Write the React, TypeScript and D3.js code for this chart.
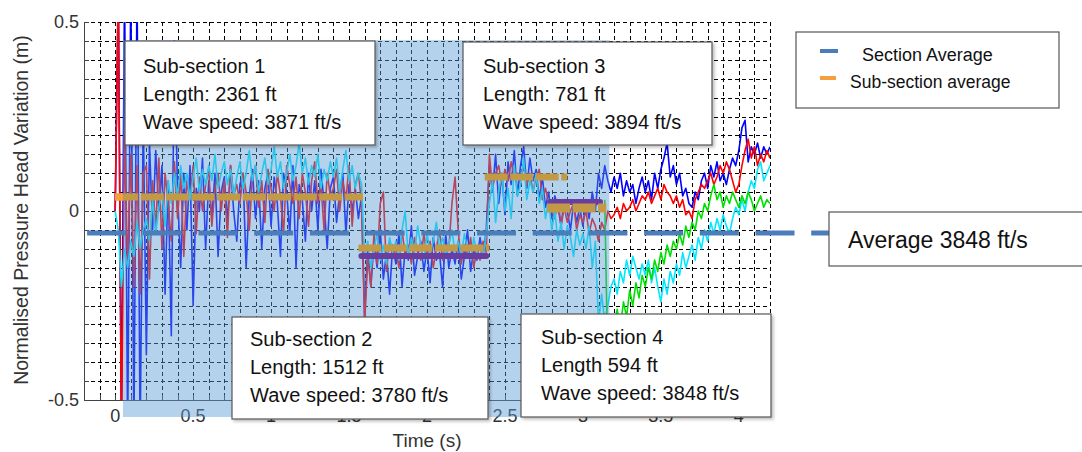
import React from 'react';
import * as d3 from 'd3';

const W = 1082;
const H = 452;
const X_DOMAIN: [number, number] = [-0.2, 4.2];
const Y_DOMAIN: [number, number] = [-0.5, 0.5];
const xTickValues = [0, 0.5, 1, 1.5, 2, 2.5, 3, 3.5, 4];
const xTickLabels = ['0', '0.5', '1', '1.5', '2', '2.5', '3', '3.5', '4'];
const yTickValues = [-0.5, 0, 0.5];
const yTickLabels = ['-0.5', '0', '0.5'];

const SAMPLE_START = 0;
const SAMPLE_STEP = 0.02;

const blueSeries = [
  0.0, 0.6, -0.6, 0.6, -0.6, 0.6, -0.6, 0.6, -0.6, 0.25,
  -0.38, 0.18, -0.05, 0.16, 0.0, 0.12, -0.22, 0.08, -0.33, 0.45,
  0.05, -0.15, 0.1, -0.05, 0.12, -0.25, 0.06, 0.0, 0.14, -0.1,
  0.08, -0.02, 0.1, -0.12, 0.05, 0.09, -0.03, 0.12, 0.0, -0.08,
  0.07, 0.1, -0.15, 0.04, 0.11, -0.02, 0.08, -0.1, 0.06, 0.1,
  -0.04, 0.09, 0.02, -0.12, 0.1, 0.05, -0.06, 0.12, -0.15, 0.07,
  0.03, -0.08, 0.1, 0.0, 0.08, -0.05, 0.11, 0.02, -0.1, 0.06,
  0.09, -0.03, 0.05, 0.1, -0.06, 0.07, 0.0, 0.06, -0.02, 0.04,
  -0.28, -0.1, -0.2, -0.08, -0.15, -0.05, -0.18, -0.11, -0.22, -0.09,
  -0.14, -0.06, -0.2, -0.1, -0.13, -0.04, -0.17, -0.12, -0.08, -0.16,
  -0.1, -0.19, -0.07, -0.13, -0.11, -0.2, -0.06, -0.15, -0.1, -0.14,
  -0.08, -0.18, -0.12, -0.05, -0.16, -0.1, -0.13, -0.07, -0.12, -0.05,
  0.12, 0.05, 0.15, 0.02, 0.1, -0.01, 0.13, 0.07, 0.16, 0.04,
  0.12, 0.17, 0.06, 0.14, 0.08, 0.11, 0.03, 0.09, 0.01, 0.05,
  -0.02, 0.04, 0.01, -0.04, 0.03, 0.0, -0.05, 0.02, -0.03, 0.01,
  -0.04, 0.03, -0.02, 0.05, 0.0, 0.1, 0.06, 0.12, 0.08, 0.05,
  0.09, 0.06, 0.1, 0.04, 0.08, 0.05, 0.07, 0.02, 0.06, 0.09,
  0.05, 0.08, 0.03, 0.1, 0.06, 0.11, 0.14, 0.18, 0.09, 0.12,
  0.07, 0.1, 0.04, 0.06, 0.02, 0.01, 0.05, 0.03, 0.08, 0.1,
  0.06, 0.12, 0.09, 0.13, 0.08, 0.1, 0.07, 0.11, 0.14, 0.12,
  0.16, 0.22, 0.24, 0.13, 0.17, 0.15, 0.18, 0.14, 0.17, 0.15, 0.17,
];

const redSeries = [
  0.0, 0.6, -0.6, 0.2, -0.15, 0.15, -0.2, 0.12, -0.22, 0.1,
  0.12, -0.18, 0.08, -0.05, 0.14, -0.1, 0.1, 0.02, -0.08, 0.13,
  -0.02, 0.1, -0.12, 0.08, 0.03, 0.12, -0.06, 0.09, 0.0, 0.07,
  0.11, -0.04, 0.06, 0.1, 0.0, 0.08, -0.07, 0.12, 0.04, 0.07,
  0.02, 0.1, 0.05, -0.05, 0.09, 0.12, 0.01, 0.08, -0.03, 0.11,
  0.06, 0.0, 0.1, 0.04, -0.06, 0.12, 0.07, 0.02, 0.09, -0.02,
  0.1, 0.05, -0.04, 0.08, 0.13, 0.02, 0.07, -0.05, 0.1, 0.04,
  0.06, 0.11, 0.0, 0.08, 0.03, 0.12, -0.04, 0.07, 0.1, 0.02,
  -0.3, -0.12, -0.2, -0.06, -0.14, 0.02, 0.05, -0.16, -0.08, -0.12,
  -0.1, -0.15, -0.05, -0.12, -0.09, -0.14, -0.07, -0.11, -0.13, -0.06,
  -0.12, -0.08, -0.15, -0.1, -0.05, -0.13, -0.09, -0.1, 0.02, 0.09,
  -0.05, -0.14, -0.09, -0.12, -0.07, -0.15, -0.1, -0.13, -0.08, -0.11,
  0.15, 0.06, 0.1, 0.12, 0.07, 0.11, 0.08, 0.13, 0.09, 0.1,
  0.08, 0.12, 0.07, 0.1, 0.05, 0.09, 0.11, 0.03, 0.06, 0.02,
  0.0, -0.02, 0.03, -0.04, 0.01, -0.03, 0.0, 0.02, -0.05, -0.01,
  -0.03, 0.0, -0.06, -0.02, -0.04, -0.08, -0.03, -0.05, 0.0, -0.02,
  -0.01, 0.01, -0.02, 0.02, 0.0, 0.01, 0.03, 0.0, 0.02, 0.04,
  0.03, 0.05, 0.02, 0.04, 0.06, 0.03, 0.07, 0.05, 0.04, 0.02,
  0.04, 0.01, 0.03, -0.01, 0.0, -0.02, 0.03, 0.05, 0.07, 0.06,
  0.08, 0.1, 0.07, 0.09, 0.12, 0.1, 0.13, 0.11, 0.08, 0.05,
  0.07, 0.12, 0.16, 0.19, 0.14, 0.17, 0.12, 0.15, 0.13, 0.16, 0.14,
];

const cyanSeries = [
  0.0, -0.05, -0.2, -0.1, -0.15, -0.08, -0.12, -0.03, -0.1, -0.05,
  -0.02, -0.08, 0.03, -0.06, 0.01, 0.05, -0.04, 0.08, 0.02, 0.1,
  0.04, 0.12, 0.06, 0.1, 0.03, 0.09, 0.14, 0.05, 0.11, 0.07,
  0.12, 0.08, 0.15, 0.06, 0.1, 0.13, 0.07, 0.11, 0.04, 0.09,
  0.13, 0.06, 0.1, 0.16, 0.08, 0.12, 0.05, 0.1, 0.14, 0.07,
  0.11, 0.17, 0.09, 0.13, 0.06, 0.1, 0.15, 0.08, 0.12, 0.18,
  0.1, 0.14, 0.07, 0.12, 0.09, 0.15, 0.06, 0.11, 0.08, 0.13,
  0.09, 0.14, 0.05, 0.11, 0.16, 0.08, 0.12, 0.06, 0.1, 0.07,
  -0.12, -0.08, -0.15, -0.1, -0.06, -0.13, -0.09, -0.14, -0.07, -0.11,
  -0.08, -0.13, -0.05, 0.0, -0.12, -0.07, -0.11, -0.04, -0.09, -0.13,
  -0.06, -0.11, -0.08, -0.03, -0.1, -0.07, -0.12, -0.09, -0.05, -0.11,
  -0.08, -0.12, -0.06, -0.1, -0.13, -0.07, -0.11, -0.09, -0.12, -0.06,
  0.02, 0.08, -0.03, 0.05, 0.1, 0.0, 0.06, -0.02, 0.12, 0.04,
  0.07, 0.14, 0.03, 0.08, 0.05, 0.1, 0.02, 0.06, -0.02, 0.03,
  -0.05, 0.0, -0.08, -0.03, -0.1, -0.04, -0.07, -0.12, -0.05, -0.09,
  -0.06, -0.1, -0.04, -0.15, -0.08, -0.3, -0.22, -0.29, -0.25, -0.2,
  -0.18, -0.22, -0.16, -0.19, -0.13, -0.17, -0.12, -0.15, -0.18, -0.14,
  -0.17, -0.13, -0.19, -0.15, -0.2, -0.24, -0.18, -0.22, -0.16, -0.19,
  -0.14, -0.17, -0.11, -0.15, -0.12, -0.09, -0.13, -0.07, -0.1, -0.05,
  -0.08, -0.03, -0.06, -0.02, -0.05, -0.01, -0.04, -0.06, -0.02, 0.01,
  -0.01, 0.03, 0.0, 0.05, 0.08, 0.06, 0.11, 0.13, 0.08, 0.1, 0.12,
];

const GREEN_START = 3.14;
const greenSeries = [
  0.03, -0.42, -0.33,
  -0.3, -0.26, -0.31, -0.24, -0.28, -0.21, -0.25, -0.19, -0.23, -0.17,
  -0.2, -0.15, -0.18, -0.13, -0.16, -0.11, -0.14, -0.09, -0.12, -0.08,
  -0.1, -0.06, -0.09, -0.04, -0.07, -0.03, -0.05, 0.0, -0.02, 0.02,
  0.0, 0.04, 0.07, 0.03, 0.05, 0.01, 0.04, 0.02, 0.05, 0.03,
  0.01, 0.04, 0.02, 0.05, 0.03, 0.0, 0.02, 0.04, 0.01, 0.03, 0.02,
];

const sectionAverage = -0.058;
const subStart = [0, 1.56, 2.37, 2.77];
const subEnd = [1.59, 2.4, 2.9, 3.15];
const subAverage = [0.037, -0.098, 0.09, 0.008];
const subAverageAlt: (number | null)[] = [null, -0.119, null, 0.024];
const shadeStart = 0.05;
const shadeEnd = 3.17;

const subLabels = ['Sub-section 1', 'Sub-section 2', 'Sub-section 3', 'Sub-section 4'];
const subLengths = ['Length: 2361 ft', 'Length: 1512 ft', 'Length: 781 ft', 'Length 594 ft'];
const subSpeeds = ['Wave speed: 3871 ft/s', 'Wave speed: 3780 ft/s', 'Wave speed: 3894 ft/s', 'Wave speed: 3848 ft/s'];
const averageLabel = 'Average 3848 ft/s';
const legendLabels = ['Section Average', 'Sub-section average'];

const FONT = "'Liberation Sans', Arial, Helvetica, sans-serif";
const C_BLUE = '#0000ff';
const C_RED = '#ff0000';
const C_CYAN = '#00e8ff';
const C_GREEN = '#00e000';
const C_SECTION = '#4a7dba';
const C_ORANGE = '#f5a040';
const C_GOLD = '#c29a45';
const C_PURPLE = '#6a3d9e';

export default function App() {
  const left = 84, right = 770, top = 22, bottom = 400;
  const x = d3.scaleLinear().domain(X_DOMAIN).range([left, right]);
  const y = d3.scaleLinear().domain(Y_DOMAIN).range([bottom, top]);
  const line = d3
    .line<[number, number]>()
    .x((d) => x(d[0]))
    .y((d) => y(d[1]));
  const toPts = (vals: number[], start: number): [number, number][] =>
    vals.map((v, i) => [start + i * SAMPLE_STEP, v]);

  const xGrid = d3.range(-1, 43).map((i) => i / 10);
  const yGrid = d3.range(-9, 11).map((i) => i * 0.05);
  const px = (v: number) => Math.round(v) + 0.5;

  const series = [
    { vals: blueSeries, start: SAMPLE_START, color: C_BLUE },
    { vals: redSeries, start: SAMPLE_START, color: C_RED },
    { vals: cyanSeries, start: SAMPLE_START, color: C_CYAN },
    { vals: greenSeries, start: GREEN_START, color: C_GREEN },
  ];

  const boxes = [
    { x: 125, y: 41, w: 250, h: 104, tx: 143, base: [73, 101, 129] },
    { x: 232, y: 317, w: 256, h: 102, tx: 250, base: [346, 374, 402] },
    { x: 463, y: 42, w: 249, h: 103, tx: 483, base: [73, 101, 129] },
    { x: 521, y: 314, w: 250, h: 103, tx: 541, base: [344, 372, 400] },
  ];

  return (
    <svg
      width={W}
      height={H}
      viewBox={`0 0 ${W} ${H}`}
      style={{ position: 'absolute', left: 0, top: 0, background: '#fff' }}
      fontFamily={FONT}
    >
      <defs>
        <clipPath id="plotClip">
          <rect x={left} y={top} width={right - left} height={bottom - top} />
        </clipPath>
        <filter id="shadow" x="-5%" y="-5%" width="115%" height="125%">
          <feDropShadow dx="2" dy="2" stdDeviation="1.5" floodColor="#000" floodOpacity="0.25" />
        </filter>
      </defs>
      <rect x={0} y={0} width={W} height={H} fill="#fff" />

      {/* grid */}
      <g stroke="#000" strokeWidth={1} strokeDasharray="4 3" shapeRendering="crispEdges">
        {xGrid.map((t) => (
          <line key={'gx' + t} x1={px(x(t))} x2={px(x(t))} y1={top} y2={bottom} />
        ))}
        {yGrid.map((v) => (
          <line key={'gy' + v} x1={left} x2={right} y1={px(y(v))} y2={px(y(v))} />
        ))}
      </g>

      {/* axes */}
      <g stroke="#444" strokeWidth={1.2} shapeRendering="crispEdges">
        <line x1={px(left)} x2={px(left)} y1={top} y2={bottom} />
        <line x1={left} x2={right} y1={px(bottom)} y2={px(bottom)} />
        {yGrid.concat([-0.5]).map((v) => (
          <line key={'ty' + v} x1={left} x2={left + 5} y1={px(y(v))} y2={px(y(v))} />
        ))}
        {xGrid.map((t) => (
          <line key={'tx' + t} x1={px(x(t))} x2={px(x(t))} y1={bottom} y2={bottom - 5} />
        ))}
      </g>

      {/* tick labels */}
      <g fill="#333" fontSize={18}>
        {yTickValues.map((v, i) => (
          <text key={'yl' + v} x={79} y={y(v)} dy="0.35em" textAnchor="end">
            {yTickLabels[i]}
          </text>
        ))}
        {xTickValues.map((t, i) => (
          <text key={'xl' + t} x={x(t)} y={416} dy="0.35em" textAnchor="middle">
            {xTickLabels[i]}
          </text>
        ))}
      </g>

      {/* axis titles */}
      <text x={427} y={447} fontSize={19} fill="#333" textAnchor="middle">
        Time (s)
      </text>
      <text
        transform="translate(28,210) rotate(-90)"
        fontSize={19.5}
        fill="#333"
        textAnchor="middle"
      >
        Normalised Pressure Head Variation (m)
      </text>

      {/* data */}
      <g clipPath="url(#plotClip)" fill="none" strokeWidth={1.6} strokeLinejoin="round">
        {series.map((s, i) => (
          <path key={'s' + i} d={line(toPts(s.vals, s.start)) || ''} stroke={s.color} />
        ))}
      </g>

      {/* shaded overlay */}
      <rect
        x={x(shadeStart)}
        y={y(0.452)}
        width={x(shadeEnd) - x(shadeStart)}
        height={417 - y(0.452)}
        fill="rgb(91,155,213)"
        fillOpacity={0.45}
      />

      {/* section average */}
      <line
        x1={x(-0.18)}
        x2={830}
        y1={y(sectionAverage)}
        y2={y(sectionAverage)}
        stroke={C_SECTION}
        strokeWidth={5}
        strokeDasharray="39 16.7"
      />

      {/* sub-section averages */}
      {subStart.map((s, i) => (
        <g key={'sub' + i}>
          {subAverageAlt[i] !== null && (
            <line
              x1={x(s) + 3}
              x2={x(subEnd[i]) - (i === 3 ? 6 : 3)}
              y1={y(subAverageAlt[i] as number)}
              y2={y(subAverageAlt[i] as number)}
              stroke={C_PURPLE}
              strokeWidth={6}
              strokeLinecap="round"
              strokeDasharray="24 2"
            />
          )}
          <line
            x1={x(s)}
            x2={x(subEnd[i])}
            y1={y(subAverage[i])}
            y2={y(subAverage[i])}
            stroke={C_GOLD}
            strokeWidth={i === 3 ? 9 : 7}
            strokeDasharray="23 2.5"
          />
        </g>
      ))}
      <line
        x1={x(subStart[0])}
        x2={x(shadeStart)}
        y1={y(subAverage[0])}
        y2={y(subAverage[0])}
        stroke={C_ORANGE}
        strokeWidth={7}
      />

      {/* annotation boxes */}
      {boxes.map((b, i) => (
        <g key={'box' + i}>
          <rect
            x={b.x}
            y={b.y}
            width={b.w}
            height={b.h}
            fill="#fff"
            stroke="#555"
            strokeWidth={1.2}
            filter="url(#shadow)"
          />
          <g fontSize={20} fill="#111">
            <text x={b.tx} y={b.base[0]}>{subLabels[i]}</text>
            <text x={b.tx} y={b.base[1]}>{subLengths[i]}</text>
            <text x={b.tx} y={b.base[2]}>{subSpeeds[i]}</text>
          </g>
        </g>
      ))}

      {/* average box */}
      <rect x={829} y={212} width={270} height={54} fill="#fff" stroke="#555" strokeWidth={1.2} />
      <text x={848} y={248} fontSize={23} fill="#111">
        {averageLabel}
      </text>

      {/* legend */}
      <rect x={796} y={32} width={263} height={76} fill="#fff" stroke="#555" strokeWidth={1.2} />
      <line x1={820} x2={838} y1={51} y2={51} stroke={C_SECTION} strokeWidth={4} />
      <text x={862} y={61} fontSize={18} fill="#111">
        {legendLabels[0]}
      </text>
      <line x1={820} x2={836} y1={78} y2={78} stroke={C_ORANGE} strokeWidth={4} />
      <text x={850} y={88} fontSize={17.5} fill="#111">
        {legendLabels[1]}
      </text>
    </svg>
  );
}
